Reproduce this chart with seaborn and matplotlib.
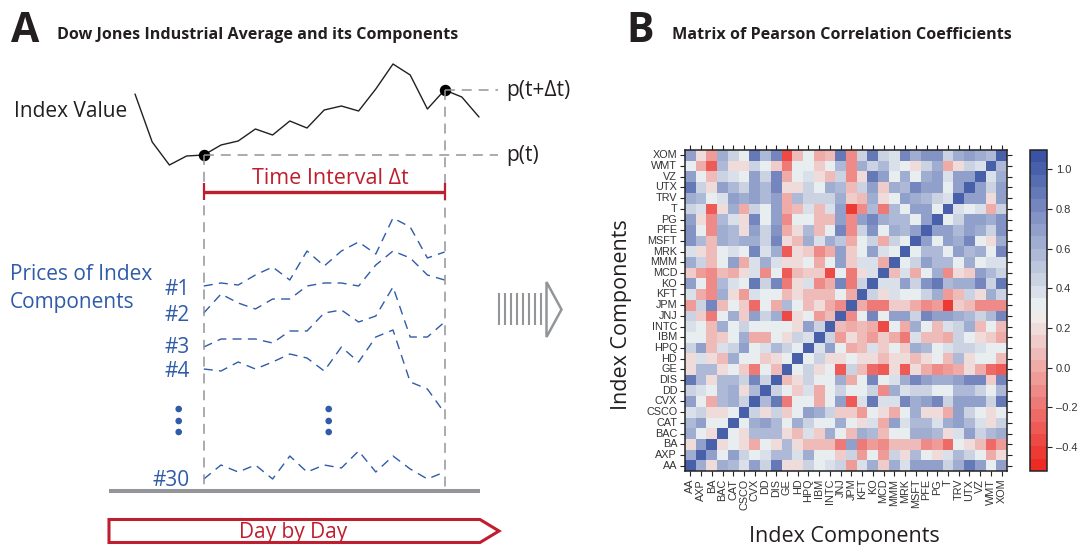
import numpy as np
import pandas as pd
import matplotlib
matplotlib.use('Agg')
import matplotlib.pyplot as plt
from matplotlib.colors import LinearSegmentedColormap
from matplotlib.patches import Polygon, Circle
import seaborn as sns

stocks = ['AA', 'AXP', 'BA', 'BAC', 'CAT', 'CSCO', 'CVX', 'DD', 'DIS', 'GE', 'HD', 'HPQ', 'IBM', 'INTC', 'JNJ',
          'JPM', 'KFT', 'KO', 'MCD', 'MMM', 'MRK', 'MSFT', 'PFE', 'PG', 'T', 'TRV', 'UTX', 'VZ', 'WMT', 'XOM']

# correlation values, top row (XOM) first
corr_rows = [
    [.68, .2, -.05, .62, .47, .3, .9, .55, .8, -.35, .1, .3, .02, .1, .85, -.1, .45, .85, .45, .38, .8, .62, .78, .78, .45, .65, .72, .65, .55, 1],
    [.3, .02, -.28, .55, .2, .2, .45, .3, .15, -.2, .3, .3, .15, .3, .55, -.1, .62, .45, .55, .38, .3, .2, .45, .62, .02, .2, .45, .38, 1, .55],
    [.68, .3, .08, .47, .38, .3, .68, .47, .8, .03, .3, .38, .2, .08, .47, -.1, .2, .85, .68, .3, .62, .3, .6, .72, .38, .68, .68, 1, .38, .65],
    [.9, .47, .2, .72, .55, .47, .72, .55, .8, .2, .2, .47, .3, .6, .55, .08, .47, .68, .15, .6, .55, .82, .72, .72, .3, .72, 1, .72, .47, .72],
    [.62, .55, .3, .38, .72, .65, .72, .55, .72, .03, .55, .47, .47, .47, .62, .15, .08, .62, .2, .3, .72, .62, .55, .47, .38, 1, .72, .68, .2, .68],
    [.47, .38, -.3, .2, .62, .02, .47, .3, .68, -.02, .08, .38, .06, .38, .68, -.45, -.1, .55, -.15, .55, .3, .68, .68, .3, 1, .38, .3, .38, .02, .47],
    [.68, .2, -.1, .55, .38, .2, .82, .3, .68, -.1, .3, .3, .08, .08, .68, -.1, .68, .82, .6, .55, .55, .3, .72, 1, .3, .47, .72, .72, .6, .78],
    [.75, .3, -.12, .62, .55, .2, .7, .47, .75, .03, .2, .55, .08, .3, .82, -.1, .47, .78, .3, .65, .55, .72, 1, .72, .68, .55, .72, .6, .47, .75],
    [.75, .55, .08, .6, .55, .6, .6, .47, .82, .2, .08, .6, .38, .6, .5, .02, .3, .47, .02, .47, .3, 1, .72, .3, .68, .62, .82, .3, .2, .62],
    [.38, .2, .08, .3, .38, .3, .82, .38, .62, -.3, .2, .15, -.1, .02, .72, .15, .3, .72, .38, .3, 1, .3, .55, .55, .3, .72, .55, .6, .3, .8],
    [.6, .47, .08, .3, .72, .02, .38, .6, .38, .2, .2, .3, .03, .3, .68, .15, .38, .38, .03, 1, .3, .47, .68, .55, .55, .3, .6, .3, .38, .38],
    [.15, -.05, -.1, .08, .03, .2, .38, -.12, .3, -.3, .08, .15, .15, -.35, .3, -.15, .2, .38, 1, .05, .38, .03, .3, .6, -.1, .2, .15, .68, .55, .47],
    [.7, .3, -.1, .55, .38, .3, .9, .47, .82, -.2, .2, .38, -.1, .03, .82, -.15, .47, 1, .38, .38, .68, .47, .78, .85, .55, .6, .65, .82, .47, .88],
    [.38, .03, -.12, .6, .2, -.05, .38, .3, .3, .08, .2, .1, .1, .1, .3, .02, 1, .47, .2, .38, .3, .3, .47, .65, -.08, .1, .47, .2, .6, .47],
    [-.05, .47, .8, .08, .3, .15, -.25, .3, .03, .55, .3, .06, .2, .03, -.12, 1, .03, -.15, -.15, .15, .15, .03, -.1, -.05, -.45, .15, .08, -.12, -.12, -.12],
    [.47, .15, -.15, .3, .6, .15, .7, .47, .6, -.35, .2, .3, -.05, .08, 1, -.12, .3, .8, .3, .68, .72, .45, .82, .68, .68, .6, .55, .47, .55, .82],
    [.38, .3, .08, .62, .3, .47, .3, .3, .3, .3, .2, .68, .47, 1, .08, .0, .08, .03, -.35, .3, .0, .6, .3, .08, .38, .47, .62, .08, .3, .08],
    [.3, .3, .08, .15, .3, .62, .02, .03, .3, .2, .47, .38, 1, .47, -.05, .2, .08, -.08, .15, .03, -.15, .38, .08, .08, .03, .47, .3, .2, .15, .0],
    [.47, .68, .08, .38, .47, .68, .3, .38, .55, .47, .3, 1, .38, .68, .3, .03, .08, .38, .15, .3, .15, .6, .55, .3, .38, .47, .47, .38, .3, .3],
    [.2, .38, .2, .08, .6, .3, .3, .15, .2, .3, 1, .3, .47, .2, .2, .3, .2, .2, .08, .2, .2, .08, .2, .3, .08, .55, .2, .3, .3, .08],
    [.2, .55, .55, .2, .3, .15, -.2, .3, .08, 1, .3, .47, .2, .3, -.3, .47, .08, -.25, -.3, .2, -.3, .2, .03, -.1, -.05, .03, .2, .03, -.25, -.3],
    [.88, .55, .2, .55, .55, .47, .82, .47, 1, .08, .2, .47, .3, .3, .6, .03, .3, .8, .3, .38, .6, .82, .72, .65, .65, .72, .82, .82, .15, .8],
    [.47, .38, .3, .55, .65, .2, .55, 1, .47, .3, .15, .38, .03, .3, .47, .3, .3, .47, -.12, .6, .38, .47, .47, .3, .3, .55, .55, .47, .3, .55],
    [.72, .3, .03, .55, .62, .47, 1, .55, .85, -.15, .3, .3, .03, .3, .72, -.3, .38, .9, .38, .38, .82, .62, .68, .82, .47, .72, .72, .68, .47, .88],
    [.38, .47, .2, .2, .3, 1, .47, .2, .47, .15, .3, .68, .62, .47, .15, .15, -.05, .3, .2, -.02, .3, .6, .2, .2, -.02, .68, .47, .3, .2, .3],
    [.55, .72, .3, .3, 1, .3, .62, .68, .55, .3, .62, .47, .3, .3, .6, .3, .2, .38, .03, .72, .38, .55, .55, .38, .6, .72, .55, .38, .2, .47],
    [.6, .3, .2, 1, .3, .2, .55, .55, .55, .2, .06, .38, .15, .6, .3, .08, .6, .55, .08, .3, .3, .6, .6, .55, .2, .38, .72, .47, .55, .6],
    [.2, .68, 1, .2, .3, .2, .02, .3, .2, .55, .2, .08, .08, .08, -.15, .72, -.15, -.08, -.1, .08, .08, .08, -.12, -.06, -.25, .3, .2, .06, -.25, -.05],
    [.6, 1, .68, .3, .72, .47, .3, .38, .55, .55, .38, .65, .3, .3, .15, .47, -.05, .3, -.08, .47, .2, .55, .3, .2, .38, .55, .47, .3, -.02, .2],
    [1, .6, .2, .6, .55, .38, .72, .47, .85, .2, .2, .47, .3, .38, .47, -.05, .38, .65, .15, .6, .38, .72, .72, .68, .47, .6, .88, .68, .3, .68],
]
cbar_ticks = [-0.4, -0.2, 0.0, 0.2, 0.4, 0.6, 0.8, 1.0]

# index and component prices, height of the curve on the panel
index_value = [451, 403, 380, 389, 390, 400, 404, 416, 410, 424, 417, 435, 439, 434, 456, 481, 470, 436, 455, 448, 428]
comp_1 = [259, 262, 260, 270, 278, 265, 294, 279, 294, 303, 291, 327, 318, 287, 293]
comp_2 = [232, 251, 242, 236, 246, 246, 259, 262, 262, 259, 280, 294, 287, 270, 265]
comp_3 = [198, 206, 206, 206, 202, 214, 214, 232, 235, 223, 229, 258, 208, 208, 223]
comp_4 = [176, 174, 183, 176, 183, 191, 187, 174, 198, 183, 208, 215, 163, 156, 132]
comp_30 = [66, 80, 73, 80, 66, 89, 73, 80, 77, 94, 73, 89, 76, 66, 73]

W, H = 1081, 545
BLUE = '#2f5ba8'
RED = '#be1e2d'
GREY = '#939598'
DARK = '#231f20'
SERIF_LIKE = 'Open Sans'


def axes_px(fig, left, top, right, bottom):
    return fig.add_axes([left / W, 1 - bottom / H, (right - left) / W, (bottom - top) / H])


def draw_schematic(fig):
    # curves live on a day / level scale
    ax = axes_px(fig, 0, 0, W, H)
    ax.set_xlim(-135 / 17.2, (W - 135) / 17.2)
    ax.set_ylim(0, H)
    ax.axis('off')
    sns.lineplot(x=np.arange(len(index_value)), y=index_value, color=DARK, lw=1.0, ax=ax)
    for comp in [comp_1, comp_2, comp_3, comp_4, comp_30]:
        sns.lineplot(x=np.arange(4, 19), y=comp, color=BLUE, lw=1.0, linestyle=(0, (6.5, 4.5)), ax=ax)
    ax.scatter([4, 18], [index_value[4], index_value[18]], s=52, color='black', zorder=5)

    # the drawing around the curves, in pixel positions
    ov = axes_px(fig, 0, 0, W, H)
    ov.set_xlim(0, W)
    ov.set_ylim(H, 0)
    ov.axis('off')
    ov.patch.set_alpha(0)
    dash = (0, (6.5, 4.5))
    ov.plot([204, 498], [155, 155], color=GREY, lw=1.1, ls=dash)
    ov.plot([445, 498], [90, 90], color=GREY, lw=1.1, ls=dash)
    ov.plot([204, 204], [155, 488], color=GREY, lw=1.1, ls=dash)
    ov.plot([445, 445], [90, 488], color=GREY, lw=1.1, ls=dash)
    ov.plot([109, 480], [491, 491], color=GREY, lw=2.9, solid_capstyle='butt')

    ov.plot([204, 445], [192, 192], color=RED, lw=2.4, solid_capstyle='butt')
    ov.plot([204, 204], [183, 200], color=RED, lw=1.6, solid_capstyle='butt')
    ov.plot([445, 445], [183, 200], color=RED, lw=1.6, solid_capstyle='butt')
    ov.add_patch(Polygon([(109, 519.5), (480, 519.5), (499, 531), (480, 542.5), (109, 542.5)],
                         closed=True, fill=False, edgecolor=RED, lw=2.2))

    # grey striped arrow
    for x in np.linspace(499, 541, 8):
        ov.plot([x, x], [293, 325], color=GREY, lw=1.5, solid_capstyle='butt')
    ov.add_patch(Polygon([(546.5, 282), (561.5, 309.5), (546.5, 337)], closed=True, fill=False,
                         edgecolor=GREY, lw=1.8))

    for x in [178.7, 328.7]:
        for y in [409, 421, 432]:
            ov.add_patch(Circle((x, y), 2.6, color=BLUE))

    # texts
    ov.text(11, 42, 'A', fontsize=29.5, fontweight='bold', color=DARK, family=SERIF_LIKE)
    ov.text(57, 39, 'Dow Jones Industrial Average and its Components', fontsize=11.6, fontweight='bold',
            color=DARK, family=SERIF_LIKE)
    ov.text(626, 42, 'B', fontsize=29.5, fontweight='bold', color=DARK, family=SERIF_LIKE)
    ov.text(672, 39, 'Matrix of Pearson Correlation Coefficients', fontsize=11.6, fontweight='bold',
            color=DARK, family=SERIF_LIKE)
    ov.text(14, 117, 'Index Value', fontsize=15, color=DARK, family=SERIF_LIKE)
    ov.text(506, 96, 'p(t+\u0394t)', fontsize=15, color=DARK, family=SERIF_LIKE)
    ov.text(506, 161, 'p(t)', fontsize=15, color=DARK, family=SERIF_LIKE)
    ov.text(330, 184, 'Time Interval \u0394t', fontsize=15.5, color=RED, family=SERIF_LIKE, ha='center')
    ov.text(293, 538, 'Day by Day', fontsize=15, color=RED, family=SERIF_LIKE, ha='center')
    ov.text(10, 280, 'Prices of Index', fontsize=15, color=BLUE, family=SERIF_LIKE)
    ov.text(10, 308, 'Components', fontsize=15, color=BLUE, family=SERIF_LIKE)
    for label, y in [('#1', 295), ('#2', 321), ('#3', 353), ('#4', 377), ('#30', 486)]:
        ov.text(190, y, label, fontsize=15, color=BLUE, family=SERIF_LIKE, ha='right')
    ov.text(844, 542, 'Index Components', fontsize=15.5, color=DARK, family=SERIF_LIKE, ha='center')
    ov.text(621, 315, 'Index Components', fontsize=15.5, color=DARK, family=SERIF_LIKE, ha='center',
            va='center', rotation=90)


def draw_matrix(fig):
    ax = axes_px(fig, 685, 150, 1007, 471)
    cax = axes_px(fig, 1029.5, 150, 1046.5, 471)
    cmap = LinearSegmentedColormap.from_list(
        'corr', [(0, '#ee2a24'), (0.5, '#eff3f3'), (1, '#3a53a4')], N=26)
    df = pd.DataFrame(corr_rows, index=stocks[::-1], columns=stocks)
    sns.heatmap(df, ax=ax, cbar_ax=cax, cmap=cmap, vmin=-0.52, vmax=1.097, center=None,
                xticklabels=True, yticklabels=True, cbar_kws={'ticks': cbar_ticks})
    for spine in ax.spines.values():
        spine.set_visible(True)
        spine.set_linewidth(1.1)
        spine.set_color('#222222')
    ax.tick_params(axis='both', length=3.6, width=0.8, labelsize=7.8, labelcolor='#333333', pad=2,
                   top=True, right=True, left=True, bottom=True, color='#222222')
    ax.set_xlabel('')
    ax.set_ylabel('')
    plt.setp(ax.get_xticklabels(), rotation=90, ha='center', va='top', family='Liberation Sans')
    plt.setp(ax.get_yticklabels(), rotation=0, family='Liberation Sans')

    cb = ax.collections[0].colorbar
    cb.outline.set_linewidth(1.1)
    cb.outline.set_edgecolor('#222222')
    cb.ax.tick_params(length=3.6, width=0.8, labelsize=8, labelcolor='#333333', pad=3, color='#222222')
    plt.setp(cb.ax.get_yticklabels(), family='Liberation Sans')
    cb.ax.yaxis.set_major_formatter(plt.FuncFormatter(lambda v, p: ('%.1f' % v).replace('-', '\u2013')))


if __name__ == '__main__':
    sns.set_theme(style='white')
    plt.rcParams['font.family'] = ['Open Sans', 'DejaVu Sans']
    fig = plt.figure(figsize=(W / 100, H / 100), dpi=100)
    draw_matrix(fig)
    draw_schematic(fig)
    fig.savefig('out.png', dpi=100)
